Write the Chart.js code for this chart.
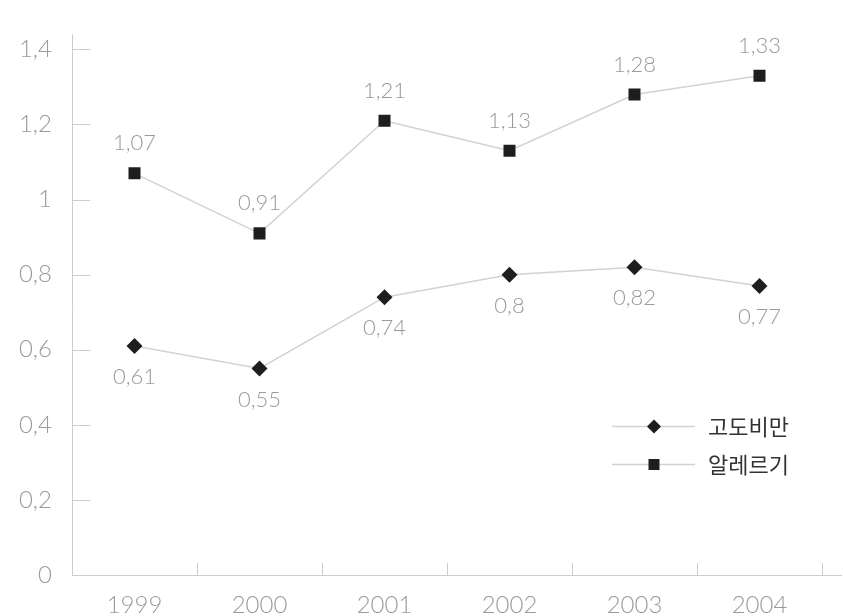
<!DOCTYPE html>
<html>
<head>
<meta charset="utf-8">
<script src="https://cdn.jsdelivr.net/npm/chart.js@4/dist/chart.umd.min.js"></script>
<style>
  html, body { margin: 0; padding: 0; background: #fff; }
  #wrap { width: 843px; height: 616px; position: relative; }
</style>
</head>
<body>
<div id="wrap"><canvas id="c"></canvas></div>
<script>
// Categories, series and axis ticks
const years = ['1999', '2000', '2001', '2002', '2003', '2004'];
const obesity = [0.61, 0.55, 0.74, 0.8, 0.82, 0.77];   // 고도비만
const allergy = [1.07, 0.91, 1.21, 1.13, 1.28, 1.33];  // 알레르기
const yTicks = [0, 0.2, 0.4, 0.6, 0.8, 1, 1.2, 1.4];
const seriesNames = ['고도비만', '알레르기'];

const LINE = '#d2d2d2';
const MARK = '#1e1e1e';
const TEXT = '#9a9a9a';
const NUM_FONT = '"Lato", "Liberation Sans", sans-serif';

const fmt = v => String(v).replace('.', ',');

// Axis lines with short inward tick marks
const axisLines = {
  id: 'axisLines',
  beforeDatasetsDraw(chart) {
    const { ctx, chartArea: { left, right, top, bottom }, scales: { x, y } } = chart;
    ctx.save();
    ctx.strokeStyle = '#cccccc';
    ctx.lineWidth = 1;
    ctx.beginPath();
    ctx.moveTo(left + 0.5, top);
    ctx.lineTo(left + 0.5, bottom);
    ctx.moveTo(left, bottom + 0.5);
    ctx.lineTo(right + 20, bottom + 0.5);
    y.ticks.forEach(t => {
      if (t.value === 0) return;
      const py = Math.round(y.getPixelForValue(t.value)) + 0.5;
      ctx.moveTo(left, py);
      ctx.lineTo(left + 18, py);
    });
    for (let i = 1; i <= years.length; i++) {
      const px = Math.round(x.getPixelForValue(i - 0.5)) + 0.5;
      ctx.moveTo(px, bottom);
      ctx.lineTo(px, bottom - 12);
    }
    ctx.stroke();
    ctx.restore();
  }
};

// Value labels: above the squares, below the diamonds
const valueLabels = {
  id: 'valueLabels',
  afterDatasetsDraw(chart) {
    const { ctx } = chart;
    ctx.save();
    ctx.font = '300 22px ' + NUM_FONT;
    ctx.fillStyle = TEXT;
    ctx.textAlign = 'center';
    ctx.textBaseline = 'middle';
    chart.data.datasets.forEach((ds, di) => {
      const meta = chart.getDatasetMeta(di);
      meta.data.forEach((pt, i) => {
        const off = di === 1 ? -30 : 31;
        ctx.fillText(fmt(ds.data[i]), pt.x, pt.y + off);
      });
    });
    ctx.restore();
  }
};

// Legend drawn inside the plot area, lower right
const innerLegend = {
  id: 'innerLegend',
  afterDraw(chart) {
    const { ctx, chartArea: { right, bottom } } = chart;
    const x0 = right - 210, x1 = right - 127, mx = right - 168, tx = right - 114;
    const rows = [bottom - 149, bottom - 111];
    ctx.save();
    chart.data.datasets.forEach((ds, i) => {
      const yy = rows[i] + 0.5;
      ctx.strokeStyle = LINE;
      ctx.lineWidth = 1.5;
      ctx.beginPath();
      ctx.moveTo(x0, yy);
      ctx.lineTo(x1, yy);
      ctx.stroke();
      ctx.fillStyle = MARK;
      ctx.beginPath();
      if (ds.pointStyle === 'rectRot') {
        const r = 7;
        ctx.moveTo(mx - r, yy); ctx.lineTo(mx, yy - r);
        ctx.lineTo(mx + r, yy); ctx.lineTo(mx, yy + r);
      } else {
        ctx.rect(mx - 5.5, yy - 5.5, 11, 11);
      }
      ctx.closePath();
      ctx.fill();
      ctx.font = '22px "Noto Sans CJK KR", sans-serif';
      ctx.fillStyle = '#333333';
      ctx.textAlign = 'left';
      ctx.textBaseline = 'middle';
      ctx.fillText(seriesNames[i], tx, yy);
    });
    ctx.restore();
  }
};

new Chart(document.getElementById('c'), {
  type: 'line',
  data: {
    labels: years,
    datasets: [
      {
        label: seriesNames[0],
        data: obesity,
        borderColor: LINE,
        borderWidth: 1.5,
        pointStyle: 'rectRot',
        pointRadius: 8,
        pointBackgroundColor: MARK,
        pointBorderColor: MARK,
        pointBorderWidth: 0,
        tension: 0
      },
      {
        label: seriesNames[1],
        data: allergy,
        borderColor: LINE,
        borderWidth: 1.5,
        pointStyle: 'rect',
        pointRadius: 8.5,
        pointBackgroundColor: MARK,
        pointBorderColor: MARK,
        pointBorderWidth: 0,
        tension: 0
      }
    ]
  },
  options: {
    responsive: true,
    maintainAspectRatio: false,
    animation: false,
    layout: { padding: { top: 32, right: 21, left: 0, bottom: 0 } },
    plugins: {
      legend: { display: false },
      tooltip: { enabled: false }
    },
    scales: {
      x: {
        offset: true,
        grid: { display: false, drawTicks: false },
        border: { display: false },
        ticks: {
          color: TEXT,
          padding: 16,
          font: { family: NUM_FONT, size: 24, weight: 300 }
        },
        afterFit(scale) { scale.height = 41; }
      },
      y: {
        min: 0,
        max: 1.44,
        grid: { display: false, drawTicks: false },
        border: { display: false },
        afterBuildTicks(scale) { scale.ticks = yTicks.map(v => ({ value: v })); },
        ticks: {
          color: TEXT,
          padding: 20,
          font: { family: NUM_FONT, size: 24, weight: 300 },
          callback: v => fmt(v)
        },
        afterFit(scale) { scale.width = 72; }
      }
    }
  },
  plugins: [axisLines, valueLabels, innerLegend]
});
</script>
</body>
</html>
